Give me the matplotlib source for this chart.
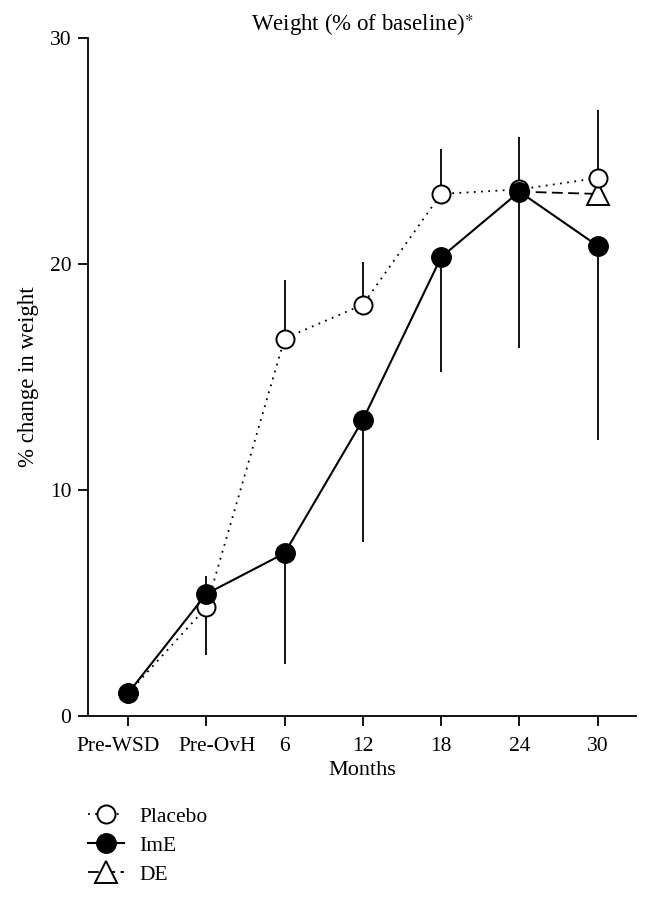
import matplotlib.pyplot as plt
import matplotlib.transforms as mtransforms
import numpy as np

plt.rcParams['font.family'] = ['Liberation Serif', 'DejaVu Serif']
plt.rcParams['mathtext.fontset'] = 'stix'

# data
labels = ['Pre-WSD', 'Pre-OvH', '6', '12', '18', '24', '30']
placebo = [1.0, 4.8, 16.7, 18.2, 23.1, 23.3, 23.8]
placebo_lo = [0, 2.1, 0, 0, 0, 0, 0]
placebo_hi = [0, 0, 2.6, 1.9, 2.0, 2.3, 3.0]
ime = [1.0, 5.4, 7.2, 13.1, 20.3, 23.2, 20.8]
ime_lo = [0, 0, 4.9, 5.4, 5.1, 6.9, 8.6]
ime_hi = [0, 0.8, 0, 0, 0, 0, 0]
de_idx = [5, 6]
de = [23.2, 23.1]

x = np.arange(len(labels))
FS = 15.5

fig = plt.figure(figsize=(6.52, 8.98), dpi=100)
ax = fig.add_axes([0.135, 0.2027, 0.84, 0.755])

# error bars first so markers sit on top
ax.errorbar(x, placebo, yerr=[placebo_lo, placebo_hi], fmt='none',
            ecolor='black', elinewidth=1.3, capsize=0, zorder=1)
ax.errorbar(x, ime, yerr=[ime_lo, ime_hi], fmt='none',
            ecolor='black', elinewidth=1.3, capsize=0, zorder=1)

ax.plot(x, placebo, linestyle=(0, (1, 3)), color='black', lw=1.3,
        marker='o', ms=13, mfc='white', mec='black', mew=1.4,
        label='Placebo', zorder=3)
ax.plot(x, ime, linestyle='-', color='black', lw=1.5,
        marker='o', ms=14, mfc='black', mec='black',
        label='ImE', zorder=4)
ax.plot(x[de_idx], de, linestyle=(0, (6, 3)), color='black', lw=1.3,
        marker='^', ms=16, mfc='white', mec='black', mew=1.4,
        markevery=[1], label='DE', zorder=2)

ax.set_xlim(-0.51, 6.485)
ax.set_ylim(0, 30)
ax.set_yticks([0, 10, 20, 30])
ax.set_xticks(x)
ax.set_xticklabels(labels)
ax.tick_params(direction='out', length=7, width=1.3, labelsize=FS, pad=5)
ax.tick_params(axis='x', pad=8)

# the two long labels are nudged apart like in the original
xt = ax.get_xticklabels()
xt[0].set_transform(xt[0].get_transform() +
                    mtransforms.ScaledTranslation(-0.1, 0, fig.dpi_scale_trans))
xt[1].set_transform(xt[1].get_transform() +
                    mtransforms.ScaledTranslation(0.11, 0, fig.dpi_scale_trans))

for s in ['top', 'right']:
    ax.spines[s].set_visible(False)
for s in ['left', 'bottom']:
    ax.spines[s].set_linewidth(1.3)

ax.set_xlabel('Months', fontsize=FS + 0.5, labelpad=4)
ax.set_ylabel('% change in weight', fontsize=FS + 1, labelpad=8)
ax.set_title(r'Weight (% of baseline)$^{\ast}$', fontsize=FS + 1, pad=6)

fig.legend(loc='upper left', bbox_to_anchor=(0.105, 0.1235),
           bbox_transform=fig.transFigure, frameon=False, fontsize=FS,
           handlelength=1.7, handletextpad=0.7, labelspacing=0.42)

fig.savefig('out.png', dpi=100)
